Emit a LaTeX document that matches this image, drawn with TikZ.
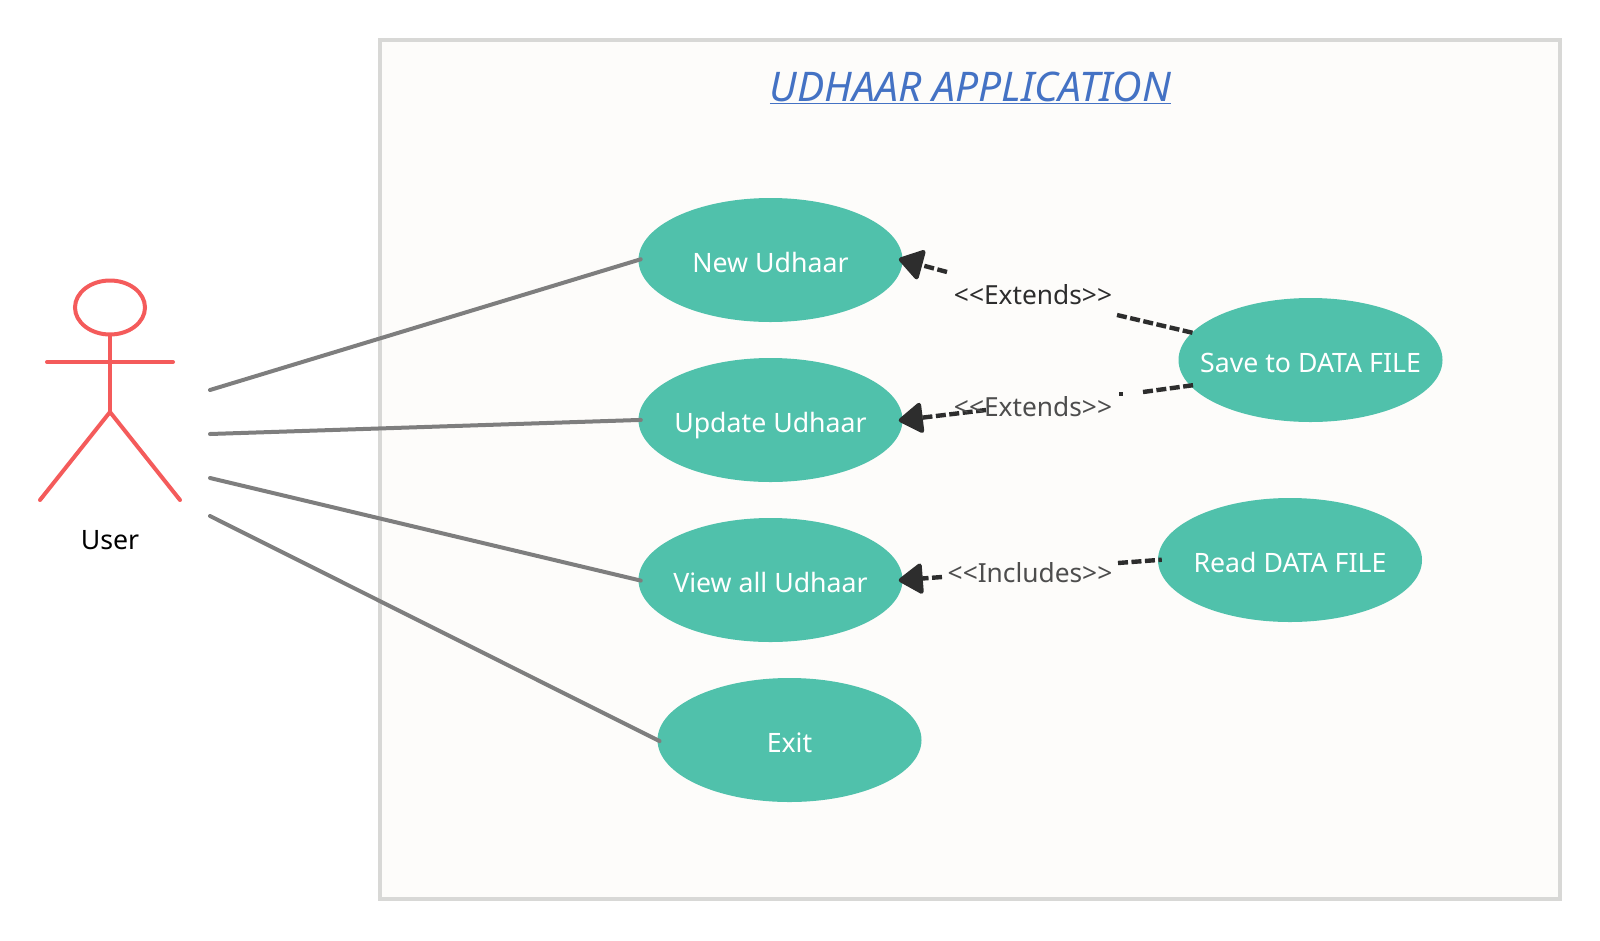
\documentclass[tikz,border=0pt]{standalone}
\usepackage{fontspec}
\setmainfont{Noto Sans}
\usetikzlibrary{arrows.meta,shapes.geometric}
\definecolor{framefill}{HTML}{FDFCFA}
\definecolor{framedraw}{HTML}{D8D8D6}
\definecolor{teal}{HTML}{50C1AB}
\definecolor{actorred}{HTML}{F45B5B}
\definecolor{assoc}{HTML}{7E7E7E}
\definecolor{dep}{HTML}{2D2D2D}
\definecolor{titleblue}{HTML}{4472C4}
\definecolor{lbl}{HTML}{4D4D4D}
\newcommand{\ctext}[1]{\makebox[0pt][c]{#1}}
\tikzset{
  x=1pt,y=-1pt,
  usecase/.style={ellipse,fill=teal,text=white,minimum width=264pt,minimum height=124pt,inner sep=0pt,text height=27pt,text depth=3pt,font=\fontsize{26.7}{30}\selectfont},
  actorline/.style={draw=actorred,line width=4pt,line cap=round},
  assocline/.style={draw=assoc,line width=4pt,line cap=round,shorten >=-2.5pt},
  depline/.style={draw=dep,line width=4.4pt,dash pattern=on 10pt off 3.5pt,shorten >=-4pt},
  deparrow/.style={depline,shorten >=-4pt,-{Triangle[length=26pt,width=33pt,round]}},
  deplabel/.style={font=\fontsize{26.3}{30}\selectfont,text=lbl,inner sep=0pt,text height=23pt,text depth=3pt},
}
\begin{document}
\begin{tikzpicture}
\useasboundingbox (0,0) rectangle (1600,940);
\node[draw=framedraw,fill=framefill,line width=4pt,minimum width=1180pt,minimum height=859pt,inner sep=0pt] (frame) at (970,469.5) {};
\node[text=titleblue,font=\fontsize{40.8}{48}\selectfont\itshape,inner sep=0pt] (title) at (970.5,88) {\underline{UDHAAR APPLICATION}};

\node[usecase] (new) at (770.5,260) {\ctext{New Udhaar}};
\node[usecase] (update) at (770.5,420) {\ctext{Update Udhaar}};
\node[usecase] (view) at (770.5,580) {\ctext{View all Udhaar}};
\node[usecase] (exit) at (789.5,740) {\ctext{Exit}};
\node[usecase] (save) at (1310.5,360) {\ctext{Save to DATA FILE}};
\node[usecase] (read) at (1290,560) {\ctext{Read DATA FILE}};

% actor
\node[draw=actorred,line width=4pt,ellipse,minimum width=70pt,minimum height=54pt,inner sep=0pt] (head) at (110,307.5) {};
\coordinate (hip) at (110,412);
\coordinate (armL) at (47,362);
\coordinate (armR) at (173,362);
\coordinate (footL) at (40,500);
\coordinate (footR) at (180,500);
\draw[actorline] (head.south) -- (hip);
\draw[actorline] (armL) -- (armR);
\draw[actorline] (footL) -- (hip) -- (footR);
\node[inner sep=0pt,font=\fontsize{26.7}{30}\selectfont,text=black] (user) at (110,540) {User};

% associations
\coordinate (a1) at (210,390);
\coordinate (a2) at (210,434);
\coordinate (a3) at (210,478);
\coordinate (a4) at (210,516);
\draw[assocline] (a1) -- (new.west);
\draw[assocline] (a2) -- (update.west);
\draw[assocline] (a3) -- (view.west);
\draw[assocline] (a4) -- (exit.west);

% dependencies
\coordinate (e1a) at (1117,315);
\coordinate (e1b) at (947,272);
\coordinate (e2a) at (1143,392);
\coordinate (e2d) at (1119,394);
\coordinate (e2e) at (1123,394);
\coordinate (e2b) at (986,410);
\coordinate (i1a) at (1118,563);
\coordinate (i1b) at (942,577);
\draw[depline] (e1a) -- (save.167.5);
\draw[deparrow] (e1b) -- (new.east);
\draw[depline] (e2a) -- (save.192);
\draw[depline,shorten >=0pt] (e2d) -- (e2e);
\draw[deparrow] (e2b) -- (update.east);
\draw[depline] (i1a) -- (read.west);
\draw[deparrow] (i1b) -- (view.east);

\node[deplabel,text=dep] (l1) at (1033,294) {<{}<Extends>{}>};
\node[deplabel] (l2) at (1033,406) {<{}<Extends>{}>};
\node[deplabel] (l3) at (1030,572) {<{}<Includes>{}>};
\end{tikzpicture}
\end{document}
